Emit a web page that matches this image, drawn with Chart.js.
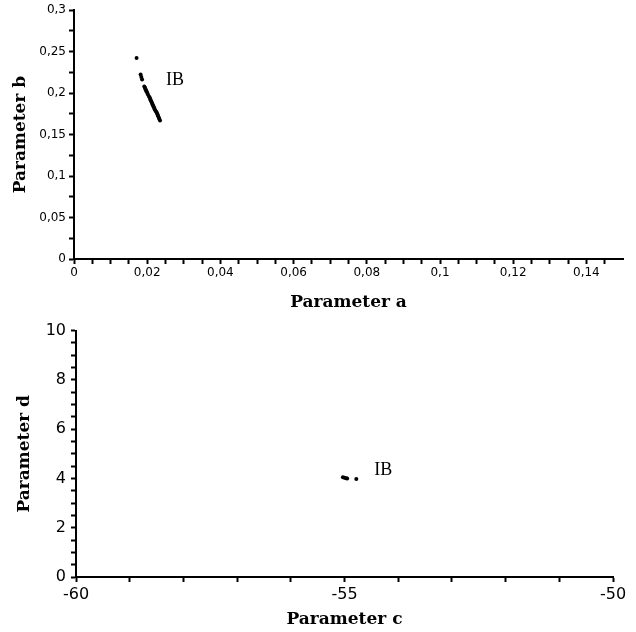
<!DOCTYPE html>
<html>
<head>
<meta charset="utf-8">
<script src="https://cdn.jsdelivr.net/npm/chart.js@4.4.1/dist/chart.umd.min.js"></script>
<style>
  html, body { margin: 0; padding: 0; background: #fff; }
  #wrap { position: relative; width: 636px; height: 632px; }
  canvas { position: absolute; left: 0; }
  #topChart { top: 0; }
  #bottomChart { top: 316px; }
</style>
</head>
<body>
<div id="wrap">
  <canvas id="topChart" width="636" height="316"></canvas>
  <canvas id="bottomChart" width="636" height="316"></canvas>
</div>
<script>
// parameter a / b cloud (top plot)
const paramA = [0.0171, 0.0182, 0.0184, 0.0186, 0.0192, 0.0194, 0.0195, 0.0197, 0.0198,
  0.0200, 0.0202, 0.0205, 0.0207, 0.0208, 0.0210, 0.0211, 0.0213, 0.0214, 0.0216,
  0.0217, 0.0219, 0.0220, 0.0222, 0.0224, 0.0226, 0.0227, 0.0229, 0.0230, 0.0232,
  0.0233, 0.0235];
const paramB = [0.2425, 0.2225, 0.2195, 0.2165, 0.2080, 0.2065, 0.2050, 0.2035, 0.2020,
  0.2005, 0.1985, 0.1960, 0.1945, 0.1930, 0.1915, 0.1900, 0.1885, 0.1870, 0.1855,
  0.1840, 0.1825, 0.1810, 0.1795, 0.1780, 0.1765, 0.1750, 0.1735, 0.1720, 0.1700,
  0.1690, 0.1670];

// parameter c / d cloud (bottom plot)
const paramC = [-55.03, -55.00, -54.97, -54.95, -54.78];
const paramD = [4.05, 4.03, 4.01, 4.00, 3.98];

// tick marks and labels
const aTicks = [];
for (let i = 0; i <= 29; i++) aTicks.push(i * 0.005);
const aLabels = { 0: '0', 20: '0,02', 40: '0,04', 60: '0,06', 80: '0,08', 100: '0,1', 120: '0,12', 140: '0,14' };
const bTicks = [];
for (let i = 0; i <= 12; i++) bTicks.push(i * 0.025);
const bLabels = { 0: '0', 50: '0,05', 100: '0,1', 150: '0,15', 200: '0,2', 250: '0,25', 300: '0,3' };
const cTicks = [-60, -59, -58, -57, -56, -55, -54, -53, -52, -51, -50];
const cLabels = { '-60': '-60', '-55': '-55', '-50': '-50' };
const dTicks = [];
for (let i = 0; i <= 20; i++) dTicks.push(i * 0.5);
const dLabels = { 0: '0', 2: '2', 4: '4', 6: '6', 8: '8', 10: '10' };

const topNote = { text: 'IB', x: 0.0276, y: 0.215 };
const bottomNote = { text: 'IB', x: -54.28, y: 4.33 };

const titleFont = { family: 'DejaVu Serif', weight: 'bold', size: 17 };
const smallTickFont = { family: 'DejaVu Sans', size: 12 };
const bigTickFont = { family: 'DejaVu Sans', size: 16 };

function pts(xs, ys) {
  return xs.map((x, i) => ({ x: x, y: ys[i] }));
}

const notePlugin = {
  id: 'note',
  afterDatasetsDraw(chart, args, opts) {
    const ctx = chart.ctx;
    const x = chart.scales.x.getPixelForValue(opts.x);
    const y = chart.scales.y.getPixelForValue(opts.y);
    ctx.save();
    ctx.fillStyle = '#000';
    ctx.font = '18px "Liberation Serif"';
    ctx.textAlign = 'center';
    ctx.textBaseline = 'middle';
    ctx.fillText(opts.text, x, y);
    ctx.restore();
  }
};

function axis(min, max, ticks, labels, key, font, pad, title, titlePad, fit) {
  return {
    type: 'linear',
    min: min,
    max: max,
    afterBuildTicks: s => { s.ticks = ticks.map(v => ({ value: v })); },
    afterFit: fit,
    border: { display: true, color: '#000', width: 2 },
    grid: { drawOnChartArea: false, drawTicks: true, tickLength: 5, tickColor: '#000', tickWidth: 2 },
    ticks: {
      autoSkip: false,
      maxRotation: 0,
      color: '#000',
      padding: pad,
      font: font,
      callback: v => {
        const k = key(v);
        return labels[k] !== undefined ? labels[k] : '';
      }
    },
    title: { display: true, text: title, color: '#000', font: titleFont, padding: titlePad }
  };
}

Chart.defaults.animation = false;

new Chart(document.getElementById('topChart'), {
  type: 'scatter',
  data: {
    datasets: [{
      data: pts(paramA, paramB),
      backgroundColor: '#000',
      borderColor: '#000',
      pointRadius: 2,
      borderWidth: 0
    }]
  },
  options: {
    responsive: false,
    layout: { padding: { top: 10, right: 13, left: 0, bottom: 0 } },
    plugins: { legend: { display: false }, tooltip: { enabled: false }, note: topNote },
    scales: {
      x: axis(0, 0.15, aTicks, aLabels, v => Math.round(v * 1000),
        smallTickFont, 2, 'Parameter a', { top: 0, bottom: 3 },
        s => { s.height = 57; }),
      y: axis(0, 0.3, bTicks, bLabels, v => Math.round(v * 1000),
        smallTickFont, 3, 'Parameter b', { top: 10, bottom: 0 },
        s => { s.width = 74; })
    }
  },
  plugins: [notePlugin]
});

new Chart(document.getElementById('bottomChart'), {
  type: 'scatter',
  data: {
    datasets: [{
      data: pts(paramC, paramD),
      backgroundColor: '#000',
      borderColor: '#000',
      pointRadius: 2,
      borderWidth: 0
    }]
  },
  options: {
    responsive: false,
    layout: { padding: { top: 7, right: 23, left: 0, bottom: 0 } },
    plugins: { legend: { display: false }, tooltip: { enabled: false }, note: bottomNote },
    scales: {
      x: axis(-60, -50, cTicks, cLabels, v => String(Math.round(v)),
        bigTickFont, 3, 'Parameter c', { top: 0, bottom: 2 },
        s => { s.height = 55; }),
      y: axis(0, 10, dTicks, dLabels, v => (Math.abs(v - Math.round(v)) < 1e-6 ? Math.round(v) : -1),
        bigTickFont, 5, 'Parameter d', { top: 14, bottom: 0 },
        s => { s.width = 76; })
    }
  },
  plugins: [notePlugin]
});
</script>
</body>
</html>
